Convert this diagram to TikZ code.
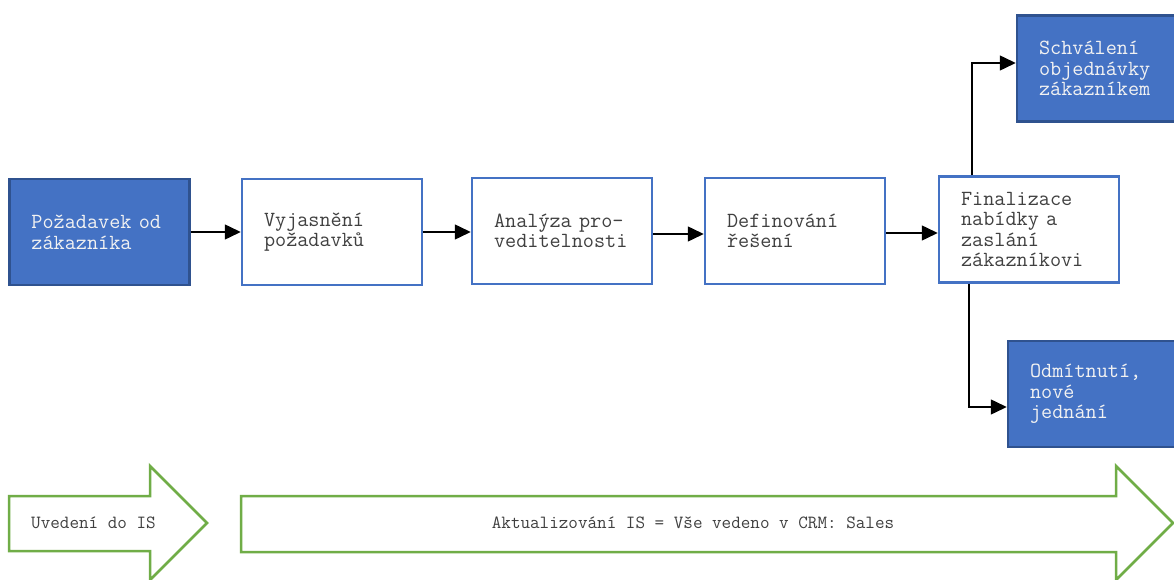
\documentclass[tikz,border=0pt]{standalone}
\usepackage{fontspec}
\usetikzlibrary{arrows.meta}
\definecolor{stepblue}{HTML}{4472C4}
\definecolor{stepedge}{HTML}{2F528F}
\definecolor{phasegreen}{HTML}{70AD47}
\definecolor{darktext}{HTML}{404040}
\definecolor{lighttext}{HTML}{F2F2F2}
\tikzset{
  base/.style={rectangle, minimum width=180bp, minimum height=106bp,
    inner xsep=22bp, inner ysep=0bp, text width=136bp, align=left,
    font=\ttfamily\fontsize{21.6bp}{20.5bp}\selectfont},
  keybox/.style={base, fill=stepblue, draw=stepedge, line width=2.5bp, text=lighttext},
  stepbox/.style={base, fill=white, draw=stepblue, line width=2.5bp, text=darktext},
  flow/.style={draw=black, line width=1.5bp, -{Triangle[length=16bp,width=15bp]}},
  phase/.style={draw=phasegreen, line width=2.5bp, fill=white, line join=miter},
  phaselabel/.style={font=\ttfamily\fontsize{18.6bp}{20bp}\selectfont, text=darktext, inner sep=0bp}
}
\begin{document}
\begin{tikzpicture}[x=1bp, y=-1bp]
  \useasboundingbox (0,0) rectangle (1174,580);
  \clip (0,0) rectangle (1174,580);
  \fill[white] (0,0) rectangle (1174,580);

  % process steps
  \node[keybox]  (req)  at (99.5,232)  {Požadavek od\\zákazníka};
  \node[stepbox] (clar) at (332,232)   {Vyjasnění\\požadavků};
  \node[stepbox] (feas) at (562,231)   {Analýza pro-\\veditelnosti};
  \node[stepbox] (sol)  at (795,231)   {Definování\\řešení};
  \node[stepbox] (fin)  at (1029,229.5){Finalizace\\nabídky a\\zaslání\\zákazníkovi};
  \node[keybox]  (ok)   at (1107,68.5) {Schválení\\objednávky\\zákazníkem};
  \node[keybox]  (no)   at (1098,394)  {Odmítnutí,\\nové\\jednání};

  % connectors
  \draw[flow] (req.east)  -- (req.east -| clar.west);
  \draw[flow] (clar.east) -- (clar.east -| feas.west);
  \draw[flow] ([yshift=-3bp]feas.east) -- ([yshift=-3bp]feas.east -| sol.west);
  \draw[flow] ([yshift=-2bp]sol.east)  -- ([yshift=-2bp]sol.east -| fin.west);
  \draw[flow] ([xshift=34bp]fin.north west) |- ([yshift=5.5bp]ok.west);
  \draw[flow] ([xshift=31bp]fin.south west) |- ([yshift=-13bp]no.west);

  % phase arrows
  \draw[phase] (9,496) -- (150,496) -- (150,466) -- (207,523) -- (150,580)
               -- (150,551) -- (9,551) -- cycle;
  \draw[phase] (241,496) -- (1116,496) -- (1116,466) -- (1173,523) -- (1116,580)
               -- (1116,552) -- (241,552) -- cycle;
  \node[phaselabel] (intro) at (93.5,523) {Uvedení do IS};
  \node[phaselabel] (upd)   at (693,523)  {Aktualizování IS = Vše vedeno v CRM: Sales};
\end{tikzpicture}
\end{document}
